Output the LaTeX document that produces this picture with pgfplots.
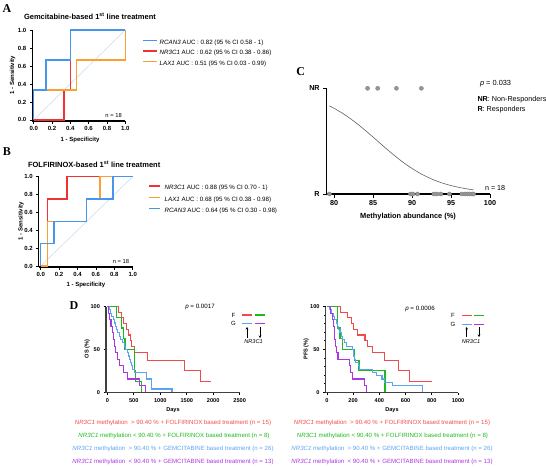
\documentclass[border=0pt]{standalone}
\usepackage{pgfplots}
\pgfplotsset{compat=1.18}
\usepackage{fontspec}
\setmainfont{Liberation Sans}
\newfontfamily\letterfont{Liberation Serif}
\usetikzlibrary{arrows.meta}

% curve colours
\definecolor{rocblue}{RGB}{70,150,240}
\definecolor{rocred}{RGB}{240,50,50}
\definecolor{rocorange}{RGB}{250,160,50}
\definecolor{diag}{RGB}{195,218,242}
\definecolor{kmred}{RGB}{240,75,75}
\definecolor{kmgreen}{RGB}{30,185,30}
\definecolor{kmblue}{RGB}{90,165,240}
\definecolor{kmpurple}{RGB}{170,55,225}
\definecolor{dotgray}{RGB}{150,150,150}

\newcommand{\fs}[1]{\fontsize{#1}{#1}\selectfont}

\pgfplotsset{
  gp/.style={
    scale only axis, clip=false,
    axis x line*=bottom, axis y line*=left,
    axis line style={-, line width=1.1pt, black},
    tick align=outside,
    tick style={line width=0.8pt, black},
    major tick length=2.5pt, minor tick length=1.5pt,
    /pgf/number format/assume math mode=true,
    ticklabel style={font=\bfseries\fs{6}},
    label style={font=\bfseries\fs{6}},
    xticklabel style={yshift=0.5pt},
  },
  roc/.style={gp,
    xtick={0,0.2,0.4,0.6,0.8,1}, xticklabels={0.0,0.2,0.4,0.6,0.8,1.0},
    ytick={0,0.2,0.4,0.6,0.8,1}, yticklabels={0.0,0.2,0.4,0.6,0.8,1.0},
    xlabel={1 - Specificity}, ylabel={1 - Sensitivity},
    legend cell align=left,
  },
  km/.style={gp,
    axis line style={-, line width=1.3pt, black!75},
    ymin=-0.5, ymax=100, ytick={0,50,100},
    minor ytick={10,20,30,40,60,70,80,90},
    ticklabel style={font=\bfseries\fs{5.6}},
    label style={font=\bfseries\fs{5.6}},
  },
  rocline/.style={line width=1.4pt},
  kmline/.style={line width=1.15pt, const plot},
}

\begin{document}
\begin{tikzpicture}[x=1pt,y=1pt]
\path[use as bounding box] (0,0) rectangle (546,467);

% ---------------- panel A ----------------
\node[font=\letterfont\bfseries\fs{12}] at (7,458.5) {A};
\node[anchor=west, font=\bfseries\fs{7.5}] at (20.5,451) {Gemcitabine-based 1\textsuperscript{st} line treatment};
\begin{axis}[roc, at={(32.3pt,346pt)}, anchor=south west, width=93pt, height=91pt,
  xmin=-0.015, xmax=1, ymin=-0.012, ymax=1,
  xlabel style={at={(axis description cs:0.513,-0.209)}, anchor=center},
  ylabel style={at={(axis description cs:-0.211,0.505)}, anchor=center},
  legend style={at={(axis description cs:1.187,0.893)}, anchor=north west,
    draw=none, fill=none, inner sep=0pt, outer sep=0pt, row sep=4.8pt,
    font=\fs{6.2}, nodes={inner sep=0pt, text height=4.5pt, text depth=1.2pt},
    /tikz/every odd column/.append style={column sep=1.6pt}},
  legend image code/.code={\draw[#1] (0pt,2.2pt) -- (14pt,2.2pt);},
]
\addplot[diag, line width=0.5pt, forget plot] coordinates {(0,0) (1,1)};
\addplot[rocred, rocline, forget plot] coordinates {(0,0) (0.333,0) (0.333,0.333) (0.4,0.333) (0.4,1) (1,1)};
\addplot[rocorange, rocline, forget plot] coordinates {(0,0) (0,0.333) (0.467,0.333) (0.467,0.667) (1,0.667) (1,1)};
\addplot[rocblue, rocline, forget plot] coordinates {(0,0) (0,0.333) (0.133,0.333) (0.133,0.667) (0.4,0.667) (0.4,1) (1,1)};
\addlegendimage{rocblue, rocline}
\addlegendentry{\textit{RCAN3} AUC : 0.82 (95 \% CI 0.58 - 1)}
\addlegendimage{rocred, rocline}
\addlegendentry{\textit{NR3C1} AUC : 0.62 (95 \% CI 0.38 - 0.86)}
\addlegendimage{rocorange, rocline}
\addlegendentry{\textit{LAX1} AUC : 0.51 (95 \% CI 0.03 - 0.99)}
\node[anchor=east, font=\fs{5.8}] at (axis cs:1,0.05) {n = 18};
\end{axis}

% ---------------- panel B ----------------
\node[font=\letterfont\bfseries\fs{12}] at (7,315) {B};
\node[anchor=west, font=\bfseries\fs{7.5}] at (24.5,303) {FOLFIRINOX-based 1\textsuperscript{st} line treatment};
\begin{axis}[roc, at={(38.7pt,200pt)}, anchor=south west, width=94pt, height=90.3pt,
  xmin=-0.022, xmax=1, ymin=-0.011, ymax=1,
  xlabel style={at={(axis description cs:0.503,-0.199)}, anchor=center},
  ylabel style={at={(axis description cs:-0.188,0.509)}, anchor=center},
  legend style={at={(axis description cs:1.166,0.904)}, anchor=north west,
    draw=none, fill=none, inner sep=0pt, outer sep=0pt, row sep=5.5pt,
    font=\fs{6.2}, nodes={inner sep=0pt, text height=4.5pt, text depth=1.2pt},
    /tikz/every odd column/.append style={column sep=4.5pt}},
  legend image code/.code={\draw[#1] (0pt,2.2pt) -- (10.5pt,2.2pt);},
]
\addplot[diag, line width=0.5pt, forget plot] coordinates {(0,0) (1,1)};
\addplot[rocred, rocline] coordinates {(0,0) (0.071,0) (0.071,0.75) (0.286,0.75) (0.286,1) (1,1)};
\addlegendentry{\textit{NR3C1} AUC : 0.88 (95 \% CI 0.70 - 1)}
\addplot[rocorange, rocline] coordinates {(0,0) (0.071,0) (0.071,0.5) (0.5,0.5) (0.5,0.75) (0.643,0.75) (0.643,1) (1,1)};
\addlegendentry{\textit{LAX1} AUC : 0.68 (95 \% CI 0.38 - 0.98)}
\addplot[rocblue, rocline] coordinates {(0,0) (0,0.25) (0.143,0.25) (0.143,0.5) (0.5,0.5) (0.5,0.75) (0.786,0.75) (0.786,1) (1,1)};
\addlegendentry{\textit{RCAN3} AUC : 0.64 (95 \% CI 0.30 - 0.98)}
\node[anchor=east, font=\fs{5.8}] at (axis cs:1,0.05) {n = 18};
\end{axis}

% ---------------- panel C ----------------
\node[font=\letterfont\bfseries\fs{12}] at (300.7,395.3) {C};
\begin{axis}[gp, at={(326.7pt,273pt)}, anchor=south west, width=163.3pt, height=105.7pt,
  axis line style={-, line width=1.3pt, black},
  tick style={line width=1pt, black}, major tick length=3.5pt,
  xmin=79.06, xmax=100, ymin=0, ymax=1,
  xtick={80,85,90,95,100}, ytick={0,1}, yticklabels={R,NR},
  ticklabel style={font=\bfseries\fs{7.2}},
  xlabel={Methylation abundance (\%)},
  label style={font=\bfseries\fs{7.4}},
  xlabel style={at={(axis description cs:0.498,-0.215)}, anchor=center},
]
\addplot[black!62, line width=0.6pt, smooth] coordinates {
  (79.4,0.834) (80,0.811) (81,0.768) (82,0.718) (83,0.663) (84,0.602)
  (85,0.539) (86,0.474) (87,0.410) (88,0.349) (89,0.292) (90,0.242)
  (91,0.197) (92,0.159) (93,0.127) (94,0.101) (95,0.080) (96,0.063)
  (97,0.049) (97.9,0.039)};
% non-responders
\addplot[only marks, mark=*, mark size=2.1pt, mark options={fill=dotgray, draw=black!50, line width=0.3pt}]
  coordinates {(84.3,1) (85.6,1) (88.0,1) (91.2,1)};
% responders
\addplot[only marks, mark=*, mark size=2.1pt, mark options={fill=dotgray, draw=black!50, line width=0.3pt}]
  coordinates {(79.4,0) (89.8,0) (90.1,0) (90.7,0) (92.8,0) (93.2,0) (93.7,0)
               (94.8,0) (96.4,0) (96.8,0) (97.1,0) (97.4,0) (97.7,0) (97.9,0)};
\end{axis}
\node[anchor=west, font=\fs{7.4}] at (476.5,383.7) {\textit{p} = 0.033};
\node[anchor=west, font=\fs{7.2}] at (474,367.7) {\textbf{NR}: Non-Responders};
\node[anchor=west, font=\fs{7.2}] at (474,357) {\textbf{R}: Responders};
\node[anchor=west, font=\fs{7.2}] at (481.5,278.7) {n = 18};

% ---------------- panel D : OS ----------------
\node[font=\letterfont\bfseries\fs{12}] at (74,161.3) {D};
\begin{axis}[km, at={(106pt,74.3pt)}, anchor=south west, width=133.7pt, height=86.2pt,
  xmin=-25, xmax=2500,
  xtick={0,500,1000,1500,2000,2500}, xticklabels={0,500,1000,1500,2000,2500},
  xlabel={Days}, ylabel={OS (\%)},
  xlabel style={at={(axis description cs:0.501,-0.2)}, anchor=center},
  ylabel style={at={(axis description cs:-0.14,0.507)}, anchor=center},
]
\addplot[kmred, kmline] coordinates {
  (0,100) (210,93.3) (260,86.7) (300,80) (360,73.3) (400,66.7) (430,60)
  (460,53.3) (520,46.7) (760,37.3) (1450,24.9) (1760,12.4) (1960,12.4)};
\addplot[kmgreen, kmline] coordinates {
  (0,100) (170,87.5) (265,75) (300,62.5) (335,50) (510,37.5) (515,25)
  (540,12.5) (640,0)};
\addplot[kmblue, kmline] coordinates {
  (0,100) (45,96.2) (60,92.3) (80,88.5) (110,84.6) (130,80.8) (150,76.9)
  (180,73.1) (200,69.2) (230,65.4) (250,61.5) (290,57.7) (320,53.8)
  (350,50.0) (380,46.2) (400,42.3) (420,38.5) (440,34.6) (460,30.8)
  (480,26.9) (520,23.1) (740,15.4) (830,3.8) (1220,0)};
\addplot[kmpurple, kmline] coordinates {
  (0,100) (30,92.3) (45,84.6) (70,76.9) (90,69.2) (110,61.5) (130,53.8)
  (160,46.2) (190,38.5) (230,30.8) (300,23.1) (380,15.4) (600,7.7) (720,0)};
\end{axis}
\node[font=\fs{6.2}] at (200,160) {\textit{p} = 0.0017};
\node[font=\fs{6}] at (233.5,152) {F};
\node[font=\fs{6}] at (233.5,143.5) {G};
\draw[kmred, line width=1.15pt] (242,152) -- (252,152);
\draw[kmgreen, line width=1.15pt] (255,152) -- (265,152);
\draw[kmblue, line width=1.15pt] (242,143.5) -- (252,143.5);
\draw[kmpurple, line width=1.15pt] (255,143.5) -- (265,143.5);
\draw[-{Stealth[length=2.5pt,width=2.5pt]}, line width=0.7pt] (247,129) -- (247,140);
\draw[-{Stealth[length=2.5pt,width=2.5pt]}, line width=0.7pt] (260,140) -- (260,129);
\node[font=\itshape\fs{5.6}] at (253.5,125.5) {NR3C1};

% ---------------- panel D : PFS ----------------
\begin{axis}[km, at={(325.6pt,74.3pt)}, anchor=south west, width=132.4pt, height=86.2pt,
  xmin=-10, xmax=1000,
  xtick={0,200,400,600,800,1000}, xticklabels={0,200,400,600,800,1000},
  xlabel={Days}, ylabel={PFS (\%)},
  xlabel style={at={(axis description cs:0.5015,-0.2)}, anchor=center},
  ylabel style={at={(axis description cs:-0.146,0.507)}, anchor=center},
]
\addplot[kmred, kmline] coordinates {
  (0,100) (101,93.3) (160,86.7) (185,80) (200,73.3) (235,66.7) (290,60)
  (310,53.3) (345,46.7) (438,37.3) (547,24.9) (633,12.4) (800,12.4)};
\addplot[kmgreen, kmline] coordinates {
  (0,100) (78,87.5) (82,75) (100,62.5) (120,50) (212,37.5) (245,25) (443,0)};
\addplot[kmblue, kmline] coordinates {
  (0,100) (20,96.2) (35,92.3) (50,88.5) (60,84.6) (70,80.8) (80,76.9)
  (90,73.1) (100,69.2) (110,65.4) (120,61.5) (135,57.7) (150,53.8)
  (195,50.0) (200,46.2) (205,42.3) (210,38.5) (220,34.6) (240,30.8)
  (250,26.9) (350,23.1) (380,19.2) (420,15.4) (440,11.5) (500,7.7) (727,0)};
\addplot[kmpurple, kmline] coordinates {
  (0,100) (30,92.3) (40,84.6) (50,76.9) (55,69.2) (60,61.5) (65,53.8)
  (70,46.2) (85,38.5) (170,30.8) (180,23.1) (195,15.4) (285,7.7) (305,0)};
\end{axis}
\node[font=\fs{6.2}] at (420,158.5) {\textit{p} = 0.0006};
\node[font=\fs{6}] at (453,151.7) {F};
\node[font=\fs{6}] at (453,142.7) {G};
\draw[kmred, line width=1.15pt] (461.7,151.7) -- (471.7,151.7);
\draw[kmgreen, line width=1.15pt] (474,151.7) -- (484,151.7);
\draw[kmblue, line width=1.15pt] (461.7,142.7) -- (471.7,142.7);
\draw[kmpurple, line width=1.15pt] (474,142.7) -- (484,142.7);
\draw[-{Stealth[length=2.5pt,width=2.5pt]}, line width=0.7pt] (466.7,130) -- (466.7,140);
\draw[-{Stealth[length=2.5pt,width=2.5pt]}, line width=0.7pt] (479,140) -- (479,130);
\node[font=\itshape\fs{5.6}] at (471,125.3) {NR3C1};

% ---------------- group descriptions ----------------
\begin{scope}[every node/.style={font=\fs{6.1}}]
\node[text=kmred]    at (173,44.3) {\textit{NR3C1} methylation\ \ > 90.40 \% + FOLFIRINOX based treatment (n = 15)};
\node[text=kmgreen]  at (174,31)   {\textit{NR3C1} methylation < 90.40 \% + FOLFIRINOX based treatment (n = 8)};
\node[text=kmblue]   at (173,17.7) {\textit{NR3C1} methylation\ \ > 90.40 \% + GEMCITABINE based treatment (n = 26)};
\node[text=kmpurple] at (173,4.7)  {\textit{NR3C1} methylation\ \ < 90.40 \% + GEMCITABINE based treatment (n = 13)};
\node[text=kmred]    at (392,44.3) {\textit{NR3C1} methylation\ \ > 90.40 \% + FOLFIRINOX based treatment (n = 15)};
\node[text=kmgreen]  at (392.5,31) {\textit{NR3C1} methylation < 90.40 \% + FOLFIRINOX based treatment (n = 8)};
\node[text=kmblue]   at (392,17.7) {\textit{NR3C1} methylation\ \ > 90.40 \% + GEMCITABINE based treatment (n = 26)};
\node[text=kmpurple] at (392,4.7)  {\textit{NR3C1} methylation\ \ < 90.40 \% + GEMCITABINE based treatment (n = 13)};
\end{scope}
\end{tikzpicture}
\end{document}
